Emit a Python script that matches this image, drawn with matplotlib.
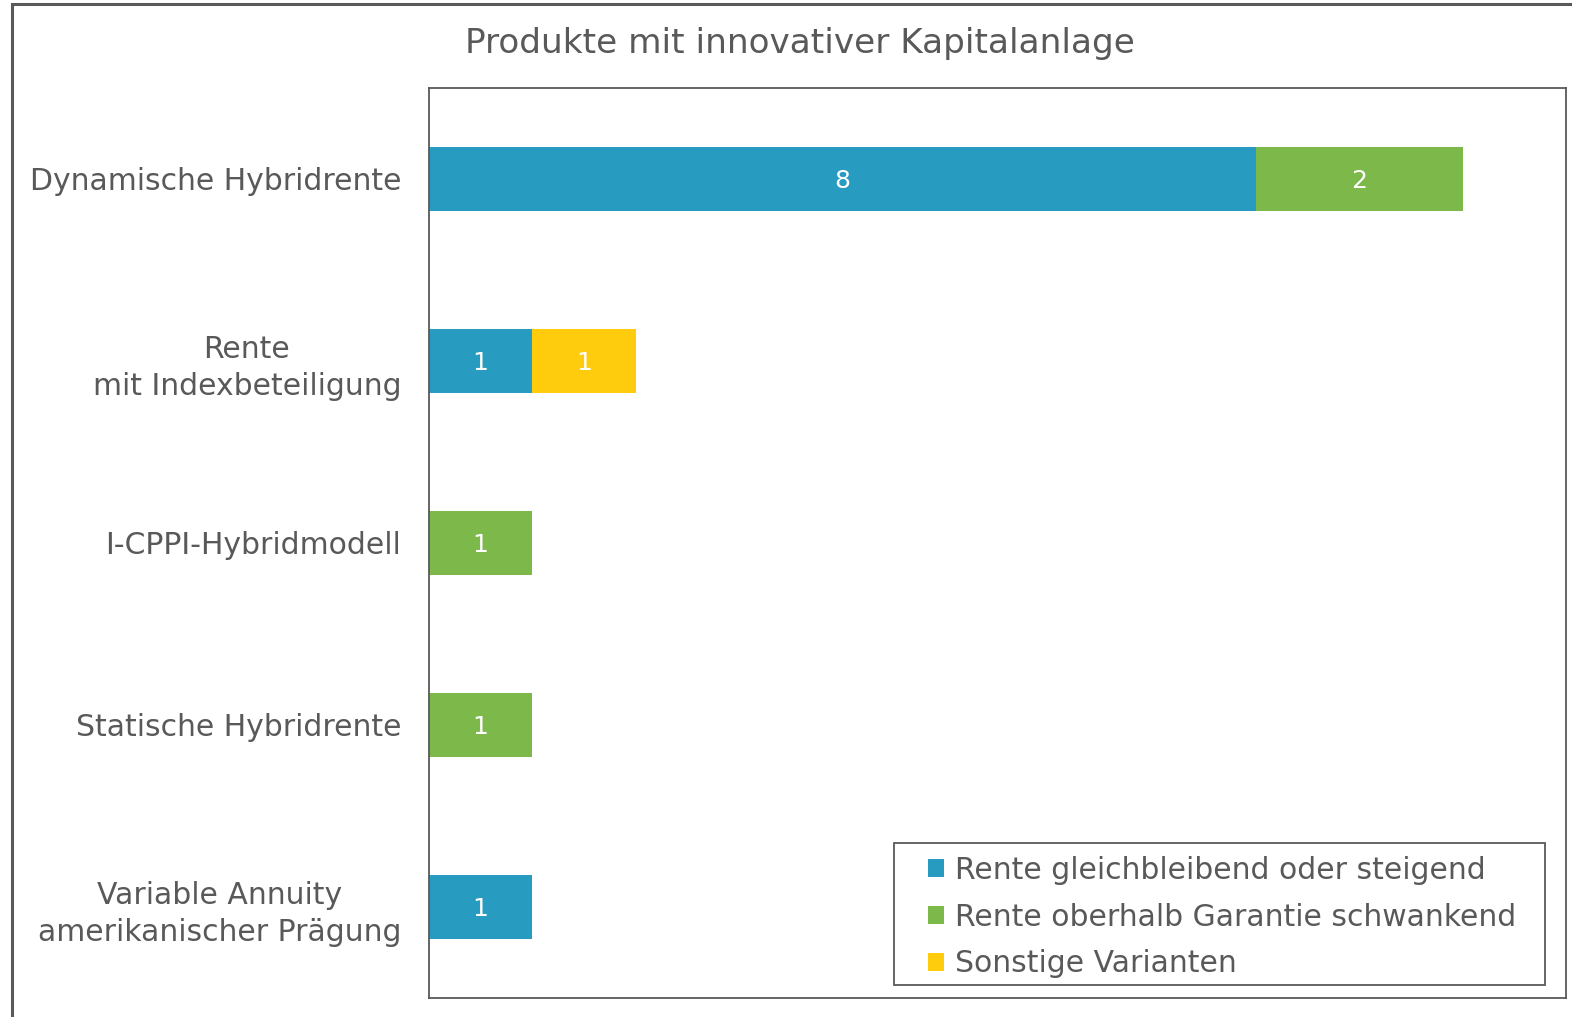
import matplotlib
matplotlib.use("Agg")
from matplotlib import pyplot as plt
from matplotlib.patches import Rectangle
import numpy as np

categories = ["Dynamische Hybridrente", "Rente\nmit Indexbeteiligung", "I-CPPI-Hybridmodell",
              "Statische Hybridrente", "Variable Annuity\namerikanischer Prägung"]
series_names = ["Rente gleichbleibend oder steigend", "Rente oberhalb Garantie schwankend",
                "Sonstige Varianten"]
gleich = [8, 1, 0, 0, 1]
schwankend = [2, 0, 1, 1, 0]
sonstige = [0, 1, 0, 0, 0]
colors = ["#289BC0", "#7DB84A", "#FFCC0D"]
gray = "#595959"

plt.rcParams['font.family'] = ['DejaVu Sans']

fig = plt.figure(figsize=(15.72, 10.17), dpi=100)
W, H = 1572, 1017
ax = fig.add_axes([429 / W, 1 - 998 / H, (1566 - 429) / W, (998 - 88) / H])

# outer chart frame (cut off at right and bottom)
fig.patches.append(Rectangle((12 / W, -0.05), 1.1, 1 - 4 / H + 0.05, transform=fig.transFigure,
                             fill=False, edgecolor=gray, linewidth=2.2))

y = np.arange(len(categories))
left = np.zeros(len(categories))
for vals, name, c in zip([gleich, schwankend, sonstige], series_names, colors):
    vals = np.array(vals)
    bars = ax.barh(y, vals, left=left, height=0.35, color=c, label=name)
    for b, v in zip(bars, vals):
        if v > 0:
            ax.text(b.get_x() + b.get_width() / 2, b.get_y() + b.get_height() / 2 + 0.01, str(v),
                    ha="center", va="center", color="white", fontsize=18)
    left += vals

ax.set_xlim(0, 11)
ax.set_ylim(len(categories) - 0.5, -0.5)
ax.set_xticks([])
ax.set_yticks(y)
ax.set_yticklabels(categories, fontsize=21.5, color=gray)
for lbl in ax.get_yticklabels():
    lbl.set_horizontalalignment("right")
    lbl.set_multialignment("center")
    lbl.set_linespacing(1.35)
ax.tick_params(axis="y", length=0, pad=20)
for s in ax.spines.values():
    s.set_color(gray)
    s.set_linewidth(1.3)

fig.text(800 / W, 1 - 43 / H, "Produkte mit innovativer Kapitalanlage", ha="center", va="center",
         fontsize=24.7, color=gray)

# legend box drawn separately (wider side padding than top/bottom)
ax.add_artist(Rectangle((894 / W, 1 - 985 / H), (1545 - 894) / W, (985 - 843) / H,
                        transform=fig.transFigure, fill=True, facecolor="white",
                        edgecolor=gray, linewidth=1.3, zorder=3, clip_on=False))
leg = ax.legend(loc="center left", bbox_to_anchor=(928 / W, 1 - 917 / H),
                bbox_transform=fig.transFigure, fontsize=21.5, frameon=False,
                handlelength=0.55, handleheight=0.55, handletextpad=0.35, borderpad=0,
                labelspacing=0.6, borderaxespad=0)
leg.set_zorder(6)
for t in leg.get_texts():
    t.set_color(gray)

plt.savefig("out.png", dpi=100)
